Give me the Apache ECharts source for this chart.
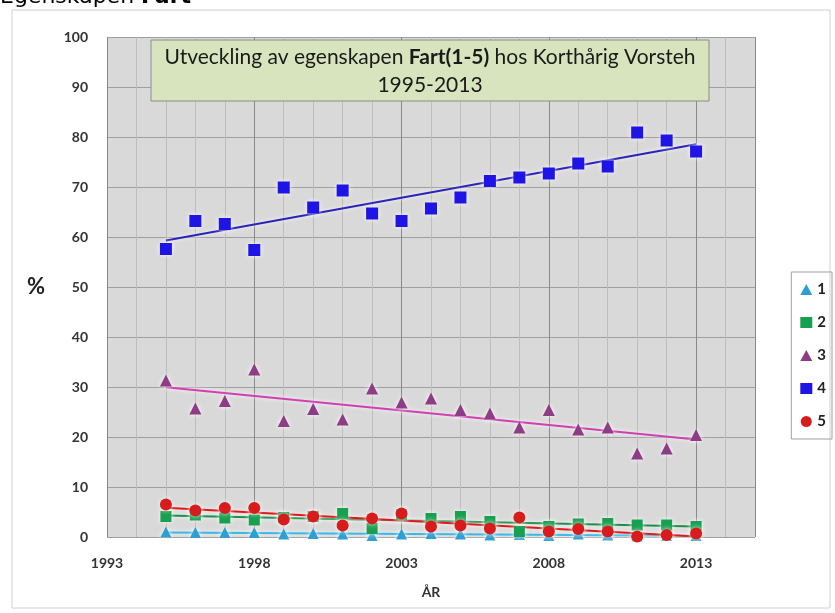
<!DOCTYPE html>
<html>
<head>
<meta charset="utf-8">
<script src="https://cdn.jsdelivr.net/npm/echarts@6/dist/echarts.min.js"></script>
<style>
  html, body { margin: 0; padding: 0; background: #fff; }
  #main { width: 835px; height: 613px; }
</style>
</head>
<body>
<div id="main"></div>
<script>
// år och andel (%) per klass
var years = [1995, 1996, 1997, 1998, 1999, 2000, 2001, 2002, 2003, 2004,
             2005, 2006, 2007, 2008, 2009, 2010, 2011, 2012, 2013];
var fart1 = [1.0, 0.9, 0.9, 0.9, 0.6, 0.7, 0.6, 0.3, 0.6, 0.7, 0.6, 0.4, 0.5, 0.3, 0.6, 0.4, 0.2, 0.3, 0.3];
var fart2 = [4.1, 4.4, 3.8, 3.4, 3.9, 4.1, 4.7, 1.7, 4.4, 3.7, 4.1, 3.1, 1.1, 2.1, 2.6, 2.7, 2.4, 2.4, 2.1];
var fart3 = [31.3, 25.7, 27.2, 33.5, 23.2, 25.6, 23.5, 29.7, 26.9, 27.7,
             25.4, 24.7, 21.9, 25.4, 21.5, 21.9, 16.7, 17.7, 20.4];
var fart4 = [57.6, 63.2, 62.6, 57.4, 69.9, 65.9, 69.3, 64.7, 63.2, 65.7,
             67.9, 71.2, 71.9, 72.7, 74.7, 74.1, 80.9, 79.3, 77.1];
var fart5 = [6.5, 5.3, 5.8, 5.8, 3.5, 4.1, 2.3, 3.7, 4.7, 2.1, 2.3, 1.7, 3.9, 1.1, 1.6, 1.1, 0.1, 0.4, 0.7];
var yTicks = [0, 10, 20, 30, 40, 50, 60, 70, 80, 90, 100];

var names = ['1', '2', '3', '4', '5'];
var values = [fart1, fart2, fart3, fart4, fart5];
var colors = ['#2e9fd0', '#17a050', '#8e3c85', '#1e14e6', '#d81c1c'];
var trendColors = ['#38b8e8', '#189048', '#d040b0', '#2a24b8', '#e01818'];
var symbols = ['triangle', 'rect', 'triangle', 'rect', 'circle'];
var sizes = [11, 11, 12, 12, 12];

// linjär trend (minsta kvadrat) som i Excel
function trend(vals) {
    var n = years.length, sx = 0, sy = 0, sxy = 0, sxx = 0;
    for (var i = 0; i < n; i++) {
        sx += years[i]; sy += vals[i];
        sxy += years[i] * vals[i]; sxx += years[i] * years[i];
    }
    var b = (n * sxy - sx * sy) / (n * sxx - sx * sx);
    var a = (sy - b * sx) / n;
    var x0 = years[0], x1 = years[n - 1];
    return [[x0, a + b * x0], [x1, a + b * x1]];
}

var series = [];
for (var k = 0; k < names.length; k++) {
    series.push({
        name: names[k] + ' trend',
        type: 'line',
        data: trend(values[k]),
        showSymbol: false,
        silent: true,
        z: 2,
        lineStyle: { color: trendColors[k], width: 2, shadowBlur: 4, shadowColor: 'rgba(255,255,255,0.9)' }
    });
}
for (var k = 0; k < names.length; k++) {
    series.push({
        name: names[k],
        type: 'scatter',
        symbol: symbols[k],
        symbolSize: sizes[k],
        z: 3,
        data: years.map(function (y, i) { return [y, values[k][i]]; }),
        itemStyle: { color: colors[k], opacity: 1, shadowBlur: 5, shadowColor: 'rgba(255,255,255,0.9)' }
    });
}

var chart = echarts.init(document.getElementById('main'));
var option = {
    backgroundColor: '#ffffff',
    animation: false,
    textStyle: { fontFamily: 'Lato' },
    graphic: [
        { type: 'rect', shape: { x: 12, y: 10, width: 818, height: 598 },
          style: { fill: 'none', stroke: '#d0d0d0', lineWidth: 1 }, z: 0 },
        { type: 'text', left: 0, top: -14,
          style: { text: 'Egenskapen {b|Fart}', fontSize: 22, fontFamily: 'DejaVu Sans', fill: '#000',
                   rich: { b: { fontSize: 22, fontWeight: 'bold', fontFamily: 'DejaVu Sans' } } } },
        { type: 'rect', shape: { x: 151, y: 40, width: 558, height: 61 },
          style: { fill: '#d7e4bd', stroke: '#8c8c8c', lineWidth: 1 }, z: 10 },
        { type: 'text', x: 430, y: 71, z: 11,
          style: {
              text: 'Utveckling av egenskapen {b|Fart(1-5)} hos Korthårig Vorsteh\n1995-2013',
              fontSize: 21, fontFamily: 'Lato', fill: '#1a1a1a', align: 'center', verticalAlign: 'middle',
              lineHeight: 28,
              rich: { b: { fontSize: 21, fontWeight: 'bold', fontFamily: 'Lato', fill: '#1a1a1a', lineHeight: 28 } }
          } },
        { type: 'text', x: 27, y: 276,
          style: { text: '%', fontSize: 22, fontWeight: 'bold', fontFamily: 'Lato', fill: '#222' } }
    ],
    legend: {
        data: names,
        orient: 'vertical',
        right: 3,
        top: 272,
        itemGap: 18,
        itemWidth: 12,
        itemHeight: 11,
        padding: [10, 6, 10, 9],
        borderColor: '#a0a0a0',
        borderWidth: 1,
        textStyle: { fontSize: 15, fontWeight: 'bold', color: '#222', fontFamily: 'Lato' }
    },
    grid: {
        left: 107, right: 80, top: 37, bottom: 76,
        show: true, backgroundColor: '#d9d9d9', borderWidth: 0
    },
    xAxis: {
        type: 'value',
        min: 1993, max: 2015, interval: 5,
        name: 'ÅR', nameLocation: 'middle', nameGap: 48,
        nameTextStyle: { fontSize: 14, fontWeight: 'bold', color: '#333' },
        axisLine: { show: false },
        axisTick: { show: false },
        axisLabel: { margin: 19, fontSize: 14, fontWeight: 'bold', color: '#333', showMaxLabel: false,
                     formatter: function (v) { return String(v); } },
        splitLine: { show: true, lineStyle: { color: '#8a8a8a', width: 1 } },
        minorTick: { show: false, splitNumber: 5 },
        minorSplitLine: { show: true, lineStyle: { color: '#bdbdbd', width: 1 } }
    },
    yAxis: {
        type: 'value',
        min: yTicks[0], max: yTicks[yTicks.length - 1], interval: 10,
        axisLine: { show: false },
        axisTick: { show: false },
        axisLabel: { margin: 19, fontSize: 14, fontWeight: 'bold', color: '#333' },
        splitLine: { show: true, lineStyle: { color: '#9f9f9f', width: 1 } }
    },
    series: series
};
chart.setOption(option);
</script>
</body>
</html>
